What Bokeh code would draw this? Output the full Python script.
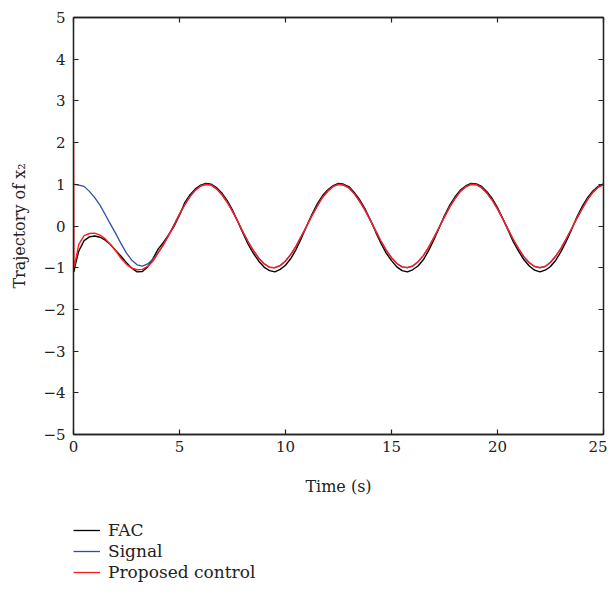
from bokeh.plotting import figure
from bokeh.models import Legend, LegendItem, LinearAxis, FixedTicker, Range1d
from bokeh.layouts import column
from bokeh.embed import file_html
from bokeh.resources import INLINE

time_s = [0, 0.02, 0.05, 0.1,
          0.25, 0.5, 0.75, 1.0, 1.25, 1.5, 1.75, 2.0, 2.25, 2.5, 2.75, 3.0, 3.25, 3.5, 3.75, 4.0,
          4.25, 4.5, 4.75, 5.0, 5.25, 5.5, 5.75, 6.0, 6.25, 6.5, 6.75, 7.0, 7.25, 7.5, 7.75, 8.0,
          8.25, 8.5, 8.75, 9.0, 9.25, 9.5, 9.75, 10.0, 10.25, 10.5, 10.75, 11.0, 11.25, 11.5, 11.75, 12.0,
          12.25, 12.5, 12.75, 13.0, 13.25, 13.5, 13.75, 14.0, 14.25, 14.5, 14.75, 15.0, 15.25, 15.5, 15.75, 16.0,
          16.25, 16.5, 16.75, 17.0, 17.25, 17.5, 17.75, 18.0, 18.25, 18.5, 18.75, 19.0, 19.25, 19.5, 19.75, 20.0,
          20.25, 20.5, 20.75, 21.0, 21.25, 21.5, 21.75, 22.0, 22.25, 22.5, 22.75, 23.0, 23.25, 23.5, 23.75, 24.0,
          24.25, 24.5, 24.75, 25.0]

signal = [1.0, 1.0, 1.0, 0.99,
          0.98, 0.95, 0.83, 0.68, 0.50, 0.27, 0.04, -0.19, -0.43, -0.65, -0.82, -0.93, -0.96, -0.91, -0.80, -0.63,
          -0.45, -0.21, 0.04, 0.28, 0.51, 0.71, 0.86, 0.96, 1.00, 0.98, 0.89, 0.75, 0.57, 0.35, 0.11, -0.15,
          -0.39, -0.60, -0.78, -0.91, -0.99, -1.00, -0.95, -0.84, -0.68, -0.48, -0.24, 0.00, 0.25, 0.48, 0.69, 0.84,
          0.95, 1.00, 0.98, 0.91, 0.77, 0.59, 0.38, 0.14, -0.11, -0.36, -0.58, -0.76, -0.90, -0.98, -1.00, -0.96,
          -0.86, -0.71, -0.51, -0.28, -0.03, 0.22, 0.46, 0.66, 0.83, 0.94, 1.00, 0.99, 0.92, 0.79, 0.62, 0.41,
          0.17, -0.08, -0.33, -0.55, -0.74, -0.88, -0.97, -1.00, -0.97, -0.87, -0.72, -0.53, -0.30, -0.06, 0.19, 0.42,
          0.64, 0.81, 0.93, 0.99]

proposed = [2.0, -1.0, -0.97, -0.82,
            -0.44, -0.23, -0.18, -0.17, -0.22, -0.31, -0.45, -0.60, -0.78, -0.92, -1.01, -1.05, -1.04, -0.97, -0.84, -0.64,
            -0.43, -0.22, 0.03, 0.29, 0.51, 0.71, 0.86, 0.96, 1.00, 0.98, 0.89, 0.75, 0.57, 0.35, 0.11, -0.15,
            -0.39, -0.60, -0.78, -0.91, -0.99, -1.00, -0.95, -0.84, -0.68, -0.48, -0.24, 0.00, 0.25, 0.48, 0.69, 0.84,
            0.95, 1.00, 0.98, 0.91, 0.77, 0.59, 0.38, 0.14, -0.11, -0.36, -0.58, -0.76, -0.90, -0.98, -1.00, -0.96,
            -0.86, -0.71, -0.51, -0.28, -0.03, 0.22, 0.46, 0.66, 0.83, 0.94, 1.00, 0.99, 0.92, 0.79, 0.62, 0.41,
            0.17, -0.08, -0.33, -0.55, -0.74, -0.88, -0.97, -1.00, -0.97, -0.87, -0.72, -0.53, -0.30, -0.06, 0.19, 0.42,
            0.64, 0.81, 0.93, 0.99]

fac = [-1.0, -1.1, -1.02, -0.9,
       -0.60, -0.35, -0.26, -0.24, -0.27, -0.34, -0.45, -0.59, -0.73, -0.88, -1.01, -1.10, -1.09, -0.98, -0.78, -0.55,
       -0.39, -0.20, 0.00, 0.26, 0.56, 0.75, 0.89, 0.98, 1.02, 1.00, 0.92, 0.79, 0.61, 0.38, 0.10, -0.18,
       -0.45, -0.67, -0.85, -0.99, -1.07, -1.10, -1.04, -0.94, -0.78, -0.56, -0.29, 0.00, 0.28, 0.53, 0.73, 0.87,
       0.97, 1.02, 1.00, 0.94, 0.80, 0.63, 0.41, 0.15, -0.14, -0.41, -0.65, -0.83, -0.98, -1.07, -1.10, -1.05,
       -0.96, -0.81, -0.59, -0.33, -0.04, 0.25, 0.50, 0.70, 0.86, 0.96, 1.02, 1.01, 0.95, 0.82, 0.66, 0.44,
       0.18, -0.10, -0.38, -0.61, -0.81, -0.96, -1.06, -1.10, -1.06, -0.97, -0.82, -0.61, -0.36, -0.08, 0.22, 0.47,
       0.68, 0.84, 0.95, 1.01]

series_names = ["FAC", "Signal", "Proposed control"]
series_colors = ["black", "#2c4fae", "#ff1a1a"]

x_ticks = [0, 5, 10, 15, 20, 25]
y_ticks = [-5, -4, -3, -2, -1, 0, 1, 2, 3, 4, 5]
y_tick_labels = {v: (str(v) if v >= 0 else "\u2212" + str(-v)) for v in y_ticks}

FONT = "DejaVu Serif"
AX = "#222222"
TXT = "#222222"

p = figure(width=607, height=504, output_backend="svg", toolbar_location=None,
           x_range=Range1d(0, 25), y_range=Range1d(-5, 5),
           min_border_left=73, min_border_right=4, min_border_top=17, min_border_bottom=70,
           background_fill_color="white", border_fill_color="white")
p.grid.visible = False
p.outline_line_color = AX
p.outline_line_width = 1.3

p.line(time_s, fac, line_color=series_colors[0], line_width=1.4)
p.line(time_s, signal, line_color=series_colors[1], line_width=1.3)
p.line(time_s, proposed, line_color=series_colors[2], line_width=1.4)

def style_axis(ax, ticks, labels=True):
    ax.ticker = FixedTicker(ticks=ticks)
    ax.major_tick_in = 5
    ax.major_tick_out = 0
    ax.minor_tick_in = 0
    ax.minor_tick_out = 0
    ax.axis_line_color = AX
    ax.axis_line_width = 1.3
    ax.major_tick_line_color = AX
    ax.major_tick_line_width = 1.2
    ax.major_label_text_font = FONT
    ax.major_label_text_font_size = "15px"
    ax.major_label_text_color = TXT
    if not labels:
        ax.major_label_text_alpha = 0
        ax.major_label_text_font_size = "1px"
        ax.major_label_standoff = 0

xa = p.xaxis[0]
style_axis(xa, x_ticks)
xa.major_label_standoff = 6
xa.axis_label = "Time (s)"
xa.axis_label_text_font = FONT
xa.axis_label_text_font_style = "normal"
xa.axis_label_text_font_size = "16px"
xa.axis_label_text_color = TXT
xa.axis_label_standoff = 22

ya = p.yaxis[0]
style_axis(ya, y_ticks)
ya.major_label_overrides = y_tick_labels
ya.major_label_standoff = 8
ya.axis_label = "Trajectory of x\u2082"
ya.axis_label_text_font = FONT
ya.axis_label_text_font_style = "normal"
ya.axis_label_text_font_size = "16px"
ya.axis_label_text_color = TXT
ya.axis_label_standoff = 11

top = LinearAxis()
style_axis(top, x_ticks, labels=False)
p.add_layout(top, "above")
right = LinearAxis()
style_axis(right, y_ticks, labels=False)
p.add_layout(right, "right")

# legend panel below the plot
lg = figure(width=607, height=84, output_backend="svg", toolbar_location=None,
            x_range=Range1d(0, 1), y_range=Range1d(0, 1),
            x_axis_type=None, y_axis_type=None,
            min_border_left=73, min_border_right=4, min_border_top=16, min_border_bottom=0,
            background_fill_color="white", border_fill_color="white")
lg.grid.visible = False
lg.outline_line_color = None
items = []
for name, col in zip(series_names, series_colors):
    r = lg.line([float("nan")], [float("nan")], line_color=col, line_width=1.3)
    items.append(LegendItem(label=name, renderers=[r]))

legend = Legend(items=items, location="top_left", orientation="vertical",
                label_text_font=FONT, label_text_font_size="17px", label_text_color=TXT,
                glyph_width=27, glyph_height=20, label_height=20, label_standoff=8, spacing=1,
                padding=0, margin=0, border_line_alpha=0, background_fill_alpha=0)
lg.add_layout(legend, "center")

layout = column(p, lg, spacing=0)
open("out.html", "w").write(file_html(layout, INLINE))
